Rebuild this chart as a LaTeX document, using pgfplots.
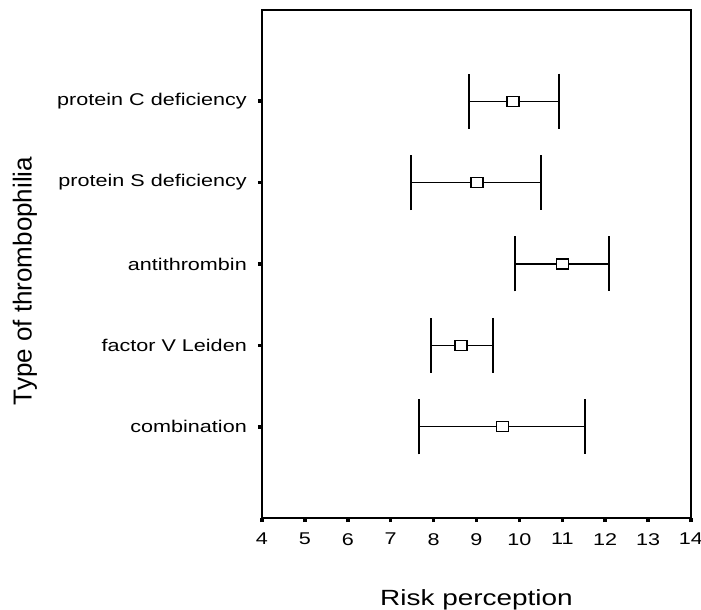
\documentclass[border=0pt]{standalone}
\usepackage{fontspec}
\setmainfont{Liberation Sans}[FakeStretch=1.27]
\newfontfamily\ylabfont{Liberation Sans}
\usepackage{pgfplots}
\pgfplotsset{compat=1.18}
\usepackage{pgfplotstable}

% mean, position, upper and lower extent of the interval
\pgfplotstableread{
mean  pos  plus  minus
9.85  5    1.07  1.02
9.01  4    1.50  1.53
11.01 3    1.07  1.11
8.64  2    0.75  0.69
9.61  1    1.91  1.95
}\riskdata

\begin{document}
\begin{tikzpicture}
\useasboundingbox (-262pt,-92pt) rectangle (439pt,518pt);
\begin{axis}[
  at={(0,0)}, anchor=south west,
  width=429pt, height=508pt, scale only axis,
  xmin=4, xmax=14, ymin=-0.12, ymax=6.12,
  xtick={4,...,14},
  ytick={1,2,3,4,5},
  yticklabels={combination, factor V Leiden, antithrombin, protein S deficiency, protein C deficiency},
  xtick pos=bottom, ytick pos=left,
  tick align=outside, major tick length=4pt,
  tick style={line width=3.5pt, black},
  axis line style={line width=1.6pt},
  /pgf/number format/assume math mode=true,
  ticklabel style={font=\fontsize{17}{20}\selectfont},
  yticklabel style={inner sep=0pt, anchor=east, xshift=-11pt},
  xticklabel style={inner sep=0pt, anchor=north, yshift=-11pt},
  xlabel={Risk perception},
  xlabel style={font=\fontsize{22}{26}\selectfont, at={(axis description cs:0.5,0)}, anchor=base, yshift=-87pt},
  ylabel={Type of thrombophilia},
  ylabel style={font=\ylabfont\fontsize{26}{30}\selectfont, at={(axis description cs:-0.5524,0.4665)}, anchor=center},
  clip=false,
]
\addplot[black, only marks, mark=square*,
  mark options={fill=white, xscale=1.2, line width=1.3pt, mark size=5pt},
  error bars/.cd, x dir=both, x explicit,
  error bar style={line width=1.2pt, black},
  error mark options={rotate=90, mark size=27.5pt, line width=2pt, black}]
  table[x=mean, y=pos, x error plus=plus, x error minus=minus] {\riskdata};
\end{axis}
\end{tikzpicture}
\end{document}
